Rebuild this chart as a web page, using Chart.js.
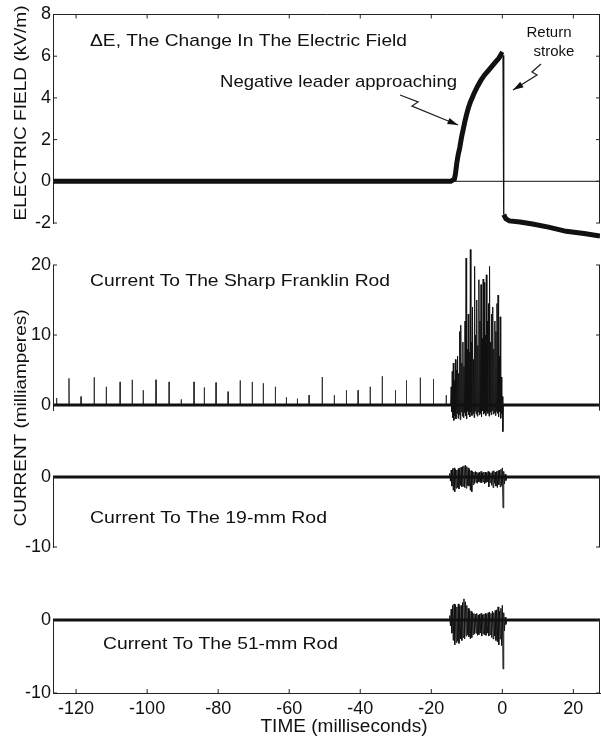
<!DOCTYPE html>
<html>
<head>
<meta charset="utf-8">
<script src="https://cdn.jsdelivr.net/npm/chart.js@4.4.1/dist/chart.umd.min.js"></script>
<style>
  body { margin: 0; background: #fff; }
  #wrap { position: relative; width: 601px; height: 740px; }
  canvas { position: absolute; left: 0; }
</style>
</head>
<body>
<div id="wrap">
  <canvas id="c1" width="601" height="250" style="top:0px"></canvas>
  <canvas id="c2" width="601" height="330" style="top:240px"></canvas>
  <canvas id="c3" width="601" height="130" style="top:440px"></canvas>
  <canvas id="c4" width="601" height="160" style="top:580px"></canvas>
</div>
<script>
// ---- data (time in ms, field in kV/m, current in mA) ----
const timeTicks = [-120, -100, -80, -60, -40, -20, 0, 20];
const fieldTicks = [8, 6, 4, 2, 0, -2];
const franklinTicks = [20, 10, 0];
const rodTicks = [0, -10];

const fieldTimeBefore = [-126.5, -100, -70, -40, -14.5, -13.5, -13.2, -12.8, -12.4, -12.0, -11.5, -11.0, -10.5, -10.0, -9.5, -9.0,
  -8.5, -8.0, -7.0, -6.0, -5.0, -4.0, -3.0, -2.0, -1.0, -0.3, 0.2];
const fieldValueBefore = [0, 0, 0, 0, 0, 0.1, 0.35, 0.9, 1.3, 1.6, 2.1, 2.5, 2.9, 3.25, 3.55, 3.8,
  4.0, 4.2, 4.55, 4.85, 5.1, 5.3, 5.5, 5.7, 5.9, 6.1, 6.05];
const fieldTimeAfter = [0.4, 1.0, 2.0, 5.0, 8.5, 13, 18, 23, 27.5];
const fieldValueAfter = [-1.6, -1.8, -1.9, -1.95, -2.05, -2.2, -2.4, -2.5, -2.62];

// small current pulses to the sharp rod before the burst
const spikeTime = [-125.5, -122.0, -118.6, -114.9, -111.5, -107.6, -104.2, -101.1, -97.5, -93.8,
  -90.4, -86.8, -83.9, -80.6, -77.2, -73.8, -70.4, -67.3, -63.9, -60.8,
  -57.7, -54.4, -50.7, -47.3, -43.9, -40.6, -37.2, -33.8, -30.1, -27.0,
  -23.1, -19.4, -15.8];
const spikeHeight = [1.0, 3.8, 1.2, 3.95, 2.6, 3.3, 3.6, 2.1, 3.6, 3.3,
  0.8, 3.3, 2.5, 3.2, 1.9, 3.5, 3.3, 3.1, 2.6, 1.1,
  0.9, 1.4, 4.0, 1.4, 2.1, 2.1, 2.6, 4.1, 2.1, 3.5,
  3.9, 3.7, 1.4];

// burst on the sharp rod while the leader approaches
const franklinBurstTime = [-14.4, -14.1, -13.8, -13.5, -13.2, -12.9, -12.6, -12.3, -12.0, -11.7,
  -11.4, -11.1, -10.8, -10.5, -10.2, -9.9, -9.6, -9.3, -9.0, -8.7,
  -8.4, -8.1, -7.8, -7.5, -7.2, -6.9, -6.6, -6.3, -6.0, -5.7,
  -5.4, -5.1, -4.8, -4.5, -4.2, -3.9, -3.6, -3.3, -3.0, -2.7,
  -2.4, -2.1, -1.8, -1.5, -1.2, -0.9, -0.6, -0.3, 0.0];
const franklinBurstPeak = [2.6, 4.8, 6.0, 3.5, 6.5, 5.0, 7.0, 4.5, 10.5, 11.4,
  6.0, 9.0, 5.5, 12.0, 21.0, 8.0, 13.0, 7.5, 22.2, 9.0,
  14.0, 6.5, 19.8, 10.0, 15.0, 8.5, 17.9, 12.0, 17.2, 9.5,
  18.0, 17.5, 10.0, 18.6, 12.0, 14.5, 19.8, 9.0, 13.0, 14.0,
  8.0, 12.0, 10.5, 14.5, 15.7, 7.0, 12.6, 4.0, 1.2];
const franklinBurstTrough = [-1.0, -1.8, -2.2, -1.5, -2.0, -1.2, -1.9, -1.4, -2.1, -1.0,
  -1.6, -1.8, -1.1, -1.5, -2.0, -0.9, -1.4, -1.7, -1.0, -1.5,
  -1.2, -1.8, -0.9, -1.3, -1.6, -1.0, -1.4, -1.2, -1.7, -0.8,
  -1.3, -1.1, -1.5, -0.9, -1.2, -1.6, -1.0, -1.4, -0.8, -1.3,
  -1.1, -1.5, -0.9, -1.2, -1.7, -1.0, -1.9, -1.2, -3.8];

// bursts on the blunt rods
const rodBurstTime = [-14.8, -14.4, -14.0, -13.6, -13.2, -12.8, -12.4, -12.0, -11.6, -11.2,
  -10.8, -10.4, -10.0, -9.6, -9.2, -8.8, -8.4, -8.0, -7.6, -7.2,
  -6.8, -6.4, -6.0, -5.6, -5.2, -4.8, -4.4, -4.0, -3.6, -3.2,
  -2.8, -2.4, -2.0, -1.6, -1.2, -0.8, -0.4, 0.0, 0.4, 0.8];
const rod19Peak = [0.5, 1.0, 1.2, 1.3, 1.1, 1.0, 1.2, 1.3, 1.4, 1.5,
  1.6, 1.7, 1.5, 1.3, 1.0, 0.9, 0.8, 0.7, 0.8, 0.7,
  0.6, 0.7, 0.8, 0.6, 0.7, 0.7, 0.6, 0.8, 0.7, 0.6,
  0.8, 0.9, 0.7, 0.8, 0.9, 1.0, 1.1, 1.3, 0.8, 0.4];
const rod19Trough = [-0.6, -1.3, -1.9, -2.1, -1.6, -1.5, -1.7, -1.2, -1.4, -1.3,
  -1.5, -1.6, -1.2, -1.3, -1.9, -2.1, -1.1, -0.9, -0.8, -0.9,
  -0.7, -0.8, -0.8, -0.7, -1.0, -0.8, -0.7, -1.4, -0.8, -1.2,
  -1.5, -0.9, -1.3, -1.5, -1.1, -1.4, -1.2, -4.4, -1.0, -0.5];
const rod51Peak = [0.6, 1.5, 2.0, 2.2, 2.1, 1.8, 2.2, 1.9, 2.0, 2.4,
  2.9, 2.5, 2.0, 1.6, 1.4, 1.2, 1.0, 0.9, 0.8, 0.9,
  0.7, 0.8, 0.9, 0.7, 0.8, 0.9, 0.8, 1.0, 1.1, 0.9,
  1.2, 1.0, 1.3, 1.4, 1.8, 1.2, 1.6, 2.0, 1.0, 0.4];
const rod51Trough = [-0.8, -1.8, -2.8, -3.4, -3.1, -2.9, -3.2, -2.6, -2.8, -2.4,
  -2.6, -2.2, -2.0, -2.3, -2.6, -2.4, -2.0, -1.9, -1.8, -2.1,
  -2.0, -1.8, -2.2, -1.9, -2.0, -2.1, -1.8, -2.2, -2.0, -2.4,
  -2.6, -2.2, -2.8, -3.0, -3.4, -2.6, -3.5, -6.7, -1.5, -0.6];

const tMin = -126.5, tMax = 27.5;
const ink = '#111';
const font = 'Liberation Sans, Arial, sans-serif';

// ---- helpers ----
function pairs(xs, ys) { return xs.map((x, i) => ({ x: x, y: ys[i] })); }

function zigzag(times, highs, lows, half) {
  const pts = [{ x: times[0] - half, y: 0 }];
  times.forEach((t, i) => {
    pts.push({ x: t, y: highs[i] });
    pts.push({ x: t + half, y: lows[i] });
  });
  pts.push({ x: times[times.length - 1] + 2 * half, y: 0 });
  return pts;
}

function spikes(times, heights) {
  const pts = [];
  times.forEach((t, i) => {
    pts.push({ x: t - 0.05, y: 0 }, { x: t, y: heights[i] }, { x: t + 0.05, y: 0 });
  });
  return pts;
}

function line(data, width, clip, color) {
  return { data: data, borderColor: color || ink, borderWidth: width, pointRadius: 0, tension: 0, clip: clip };
}

function yAxis(min, max, ticks) {
  return {
    min: min, max: max,
    afterFit: function (s) { s.width = 53; },
    afterBuildTicks: function (s) { s.ticks = ticks.map(v => ({ value: v })); },
    grid: { display: false, drawTicks: false },
    border: { display: true, color: '#222', width: 1 },
    ticks: { color: ink, padding: 2, font: { family: font, size: 18 } }
  };
}

function xHidden() {
  return { type: 'linear', min: tMin, max: tMax, display: false };
}

// inward ticks, right border, top border, free text and arrows
const frame = {
  id: 'frame',
  afterDatasetsDraw(chart, args, o) {
    const { ctx, chartArea: a } = chart;
    const xs = chart.scales.x, ys = chart.scales.y;
    ctx.save();
    ctx.strokeStyle = '#222';
    ctx.lineWidth = 1;
    ctx.beginPath();
    ctx.moveTo(a.right - 0.5, a.top);
    ctx.lineTo(a.right - 0.5, a.bottom);
    if (o.top) { ctx.moveTo(a.left, a.top); ctx.lineTo(a.right, a.top); }
    (o.yTicks || []).forEach(v => {
      const py = ys.getPixelForValue(v);
      ctx.moveTo(a.left, py); ctx.lineTo(a.left + 4, py);
      ctx.moveTo(a.right, py); ctx.lineTo(a.right - 4, py);
    });
    timeTicks.forEach(v => {
      const px = xs.getPixelForValue(v);
      if (o.top) { ctx.moveTo(px, a.top); ctx.lineTo(px, a.top + 4); }
      if (o.bottom) { ctx.moveTo(px, a.bottom); ctx.lineTo(px, a.bottom - 4); }
    });
    ctx.stroke();

    ctx.fillStyle = ink;
    ctx.textBaseline = 'middle';
    (o.texts || []).forEach(t => {
      ctx.save();
      ctx.font = (t.size || 17) + 'px ' + font;
      ctx.textAlign = t.align || 'left';
      ctx.translate(t.x, t.y);
      if (t.rotate) ctx.rotate(-Math.PI / 2);
      if (t.w) ctx.scale(t.w / ctx.measureText(t.text).width, 1);
      ctx.fillText(t.text, 0, 0);
      ctx.restore();
    });

    (o.arrows || []).forEach(p => {
      ctx.beginPath();
      ctx.lineWidth = 1.3;
      ctx.moveTo(p[0][0], p[0][1]);
      for (let i = 1; i < p.length; i++) ctx.lineTo(p[i][0], p[i][1]);
      ctx.stroke();
      const e = p[p.length - 1], s = p[p.length - 2];
      const ang = Math.atan2(e[1] - s[1], e[0] - s[0]);
      ctx.beginPath();
      ctx.moveTo(e[0], e[1]);
      ctx.lineTo(e[0] - 11 * Math.cos(ang - 0.3), e[1] - 11 * Math.sin(ang - 0.3));
      ctx.lineTo(e[0] - 11 * Math.cos(ang + 0.3), e[1] - 11 * Math.sin(ang + 0.3));
      ctx.closePath();
      ctx.fill();
    });
    ctx.restore();
  }
};
Chart.register(frame);

function baseOptions(padding, scales, frameOpts) {
  return {
    responsive: false,
    animation: false,
    layout: { padding: padding },
    scales: scales,
    plugins: { legend: { display: false }, tooltip: { enabled: false }, frame: frameOpts }
  };
}

// ---- panel 1: electric field change ----
const peak = fieldTimeBefore.length - 1;
const wide = { left: 0, right: 0, top: 4, bottom: 20 };
new Chart(document.getElementById('c1'), {
  type: 'line',
  data: {
    datasets: [
      line([{ x: tMin, y: 0 }, { x: tMax, y: 0 }], 1, { left: 0, right: 0, top: 0, bottom: 0 }),
      line(pairs(fieldTimeBefore, fieldValueBefore), 5, wide),
      line([{ x: fieldTimeBefore[peak], y: fieldValueBefore[peak] }, { x: fieldTimeAfter[0], y: fieldValueAfter[0] }], 1.3, wide),
      line(pairs(fieldTimeAfter, fieldValueAfter), 5, wide)
    ]
  },
  options: baseOptions({ left: 0, right: 1, top: 14.5, bottom: 27 },
    { x: xHidden(), y: yAxis(-2, 8, fieldTicks) },
    {
      top: true, yTicks: fieldTicks,
      texts: [
        { text: 'ELECTRIC FIELD (kV/m)', x: 21, y: 113, w: 215, align: 'center', rotate: true },
        { text: '\u0394E, The Change In The Electric Field', x: 90, y: 41, w: 317 },
        { text: 'Negative leader approaching', x: 220, y: 82, w: 237 },
        { text: 'Return', x: 549, y: 33, align: 'center', size: 15 },
        { text: 'stroke', x: 554, y: 52, align: 'center', size: 15 }
      ],
      arrows: [
        [[400, 95], [418, 102], [412, 106], [458, 125]],
        [[541, 64], [532, 72], [537, 75], [513, 90]]
      ]
    })
});

// ---- panel 2: current to the sharp Franklin rod ----
new Chart(document.getElementById('c2'), {
  type: 'line',
  data: {
    datasets: [
      line([{ x: tMin, y: 0 }, { x: tMax, y: 0 }], 3, { left: 0, right: 0, top: 0, bottom: 4 }),
      line(spikes(spikeTime, spikeHeight), 1, { left: 0, right: 0, top: 0, bottom: 4 }, '#333'),
      line(zigzag(franklinBurstTime, franklinBurstPeak, franklinBurstTrough, 0.15), 1, { left: 0, right: 0, top: 20, bottom: 30 })
    ]
  },
  options: baseOptions({ left: 0, right: 1, top: 25, bottom: 159.4 },
    { x: xHidden(), y: yAxis(-0.8, 20, franklinTicks) },
    {
      yTicks: franklinTicks,
      texts: [
        { text: 'CURRENT (milliamperes)', x: 21, y: 178, w: 217, align: 'center', rotate: true },
        { text: 'Current To The Sharp Franklin Rod', x: 90, y: 41, w: 300 }
      ]
    })
});

// ---- panel 3: current to the 19-mm rod ----
new Chart(document.getElementById('c3'), {
  type: 'line',
  data: {
    datasets: [
      line([{ x: tMin, y: 0 }, { x: tMax, y: 0 }], 3, { left: 0, right: 0, top: 4, bottom: 0 }),
      line(zigzag(rodBurstTime, rod19Peak, rod19Trough, 0.2), 1, { left: 0, right: 0, top: 20, bottom: 0 })
    ]
  },
  options: baseOptions({ left: 0, right: 1, top: 37, bottom: 23 },
    { x: xHidden(), y: yAxis(-10, 0, rodTicks) },
    {
      yTicks: rodTicks,
      texts: [{ text: 'Current To The 19-mm Rod', x: 90, y: 78, w: 237 }]
    })
});

// ---- panel 4: current to the 51-mm rod, with the time axis ----
new Chart(document.getElementById('c4'), {
  type: 'line',
  data: {
    datasets: [
      line([{ x: tMin, y: 0 }, { x: tMax, y: 0 }], 3, { left: 0, right: 0, top: 4, bottom: 0 }),
      line(zigzag(rodBurstTime, rod51Peak, rod51Trough, 0.2), 1, { left: 0, right: 0, top: 26, bottom: 0 })
    ]
  },
  options: baseOptions({ left: 0, right: 1, top: 40, bottom: 0 },
    {
      x: {
        type: 'linear', min: tMin, max: tMax,
        afterFit: function (s) { s.height = 47; },
        afterBuildTicks: function (s) { s.ticks = timeTicks.map(v => ({ value: v })); },
        grid: { display: false, drawTicks: false },
        border: { display: true, color: '#222', width: 1 },
        ticks: { color: ink, padding: 5, maxRotation: 0, autoSkip: false, font: { family: font, size: 18 } }
      },
      y: yAxis(-10, 0, rodTicks)
    },
    {
      bottom: true, yTicks: rodTicks,
      texts: [
        { text: 'Current To The 51-mm Rod', x: 103, y: 64, w: 235 },
        { text: 'TIME (milliseconds)', x: 344, y: 147, w: 167, size: 18, align: 'center' }
      ]
    })
});
</script>
</body>
</html>
